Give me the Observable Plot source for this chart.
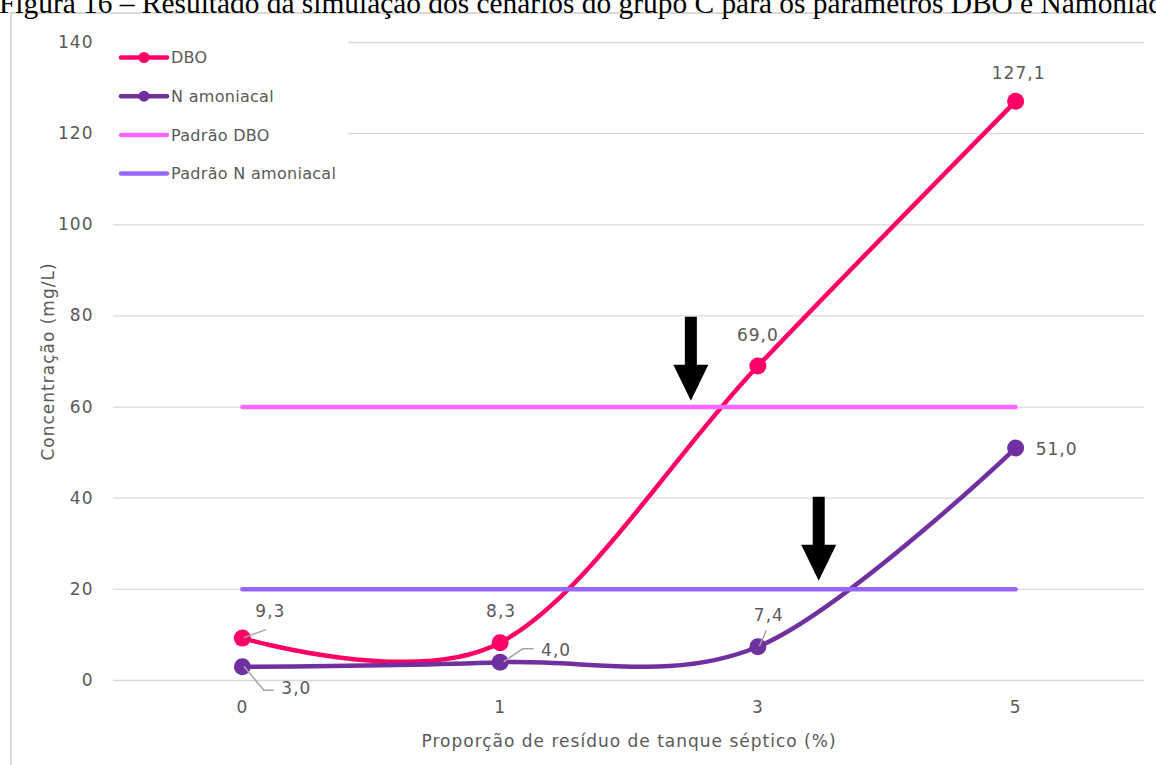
<!DOCTYPE html>
<html>
<head>
<meta charset="utf-8">
<script src="https://cdn.jsdelivr.net/npm/d3@7"></script>
<script src="https://cdn.jsdelivr.net/npm/@observablehq/plot@0.6"></script>
<style>
  body { margin: 0; background: #fff; overflow: hidden; }
  #wrap { position: relative; width: 1156px; height: 765px; overflow: hidden; }
  #frame { position: absolute; left: 10px; top: 12px; width: 1170px; height: 780px;
           border-left: 2px solid #d9d9d9; border-top: 2px solid #d9d9d9; }
  #title { position: absolute; left: -1px; top: -13px; white-space: nowrap;
           font: 29.4px "Liberation Serif", "Times New Roman", serif; color: #000; }
  #chart { position: absolute; left: 0; top: 0; }
  #chart svg text { letter-spacing: 1px; }
  #chart svg g.legend text { letter-spacing: 0.3px; }
</style>
</head>
<body>
<div id="wrap">
  <div id="frame"></div>
  <div id="title">Figura 16 – Resultado da simulação dos cenários do grupo C para os parâmetros DBO e Namoniacal</div>
  <div id="chart"></div>
</div>
<script>
// Cenários: proporção de resíduo de tanque séptico (%)
const categories = ["0", "1", "3", "5"];
// Concentrações simuladas (mg/L)
const dbo = [9.3, 8.3, 69.0, 127.1];
const nAmoniacal = [3.0, 4.0, 7.4, 51.0];
// Padrões de lançamento (mg/L)
const padraoDBO = 60;
const padraoN = 20;
// Ticks do eixo de concentração
const yTicks = [0, 20, 40, 60, 80, 100, 120, 140];
// Setas de destaque: ponta (posição entre cenários, concentração)
const arrowTips = [
  { x: 1.74, y: 61.4 },
  { x: 2.236, y: 21.9 }
];

const colors = {
  dbo: "#FF0066",
  n: "#7030A0",
  padraoDBO: "#FF66FF",
  padraoN: "#9966FF"
};
const textColor = "#595959";
const font = "'DejaVu Sans', Verdana, sans-serif";

const rows = categories.map((c, i) => ({
  i, cat: c, dbo: dbo[i], n: nAmoniacal[i], pDBO: padraoDBO, pN: padraoN
}));

const fmt = v => v.toFixed(1).replace(".", ",");

// Rótulos de dados: deslocamento (px) do texto em relação ao ponto
const labelLayout = {
  dbo: [{ dx: 28, dy: -27 }, { dx: 1, dy: -31 }, { dx: 0, dy: -31 }, { dx: 3, dy: -28 }],
  n:   [{ dx: 54, dy: 22 },  { dx: 56, dy: -12 }, { dx: 11, dy: -31 }, { dx: 41, dy: 1 }]
};
// Linhas de chamada (polilinhas em px relativas ao ponto)
const leaders = [
  { series: "dbo", i: 0, path: [[2, 0], [24, -8]] },
  { series: "n", i: 0, path: [[2, 0], [22, 24], [32, 24]] },
  { series: "n", i: 1, path: [[4, 0], [23, -13], [34, -13]] },
  { series: "n", i: 2, path: [[2, 0], [9, -16]] }
];

// Seta preta (haste + cabeça) desenhada a partir da ponta
const arrowSymbol = {
  draw(ctx) {
    ctx.moveTo(-6, -84);
    ctx.lineTo(6, -84);
    ctx.lineTo(6, -36);
    ctx.lineTo(17.5, -36);
    ctx.lineTo(0, 0);
    ctx.lineTo(-17.5, -36);
    ctx.lineTo(-6, -36);
    ctx.closePath();
  }
};

const labelMarks = [];
for (const key of ["dbo", "n"]) {
  rows.forEach((r, k) => {
    const o = labelLayout[key][k];
    labelMarks.push(Plot.text([r], {
      x: "i", y: key, text: d => fmt(d[key]),
      dx: o.dx, dy: o.dy, fill: textColor, fontSize: 17
    }));
  });
}

const chart = Plot.plot({
  width: 1156,
  height: 765,
  marginLeft: 113,
  marginRight: 12,
  marginTop: 42,
  marginBottom: 85,
  style: { fontFamily: font, fontSize: "17px", color: textColor, background: "transparent", overflow: "visible" },
  x: { domain: [-0.5, 3.5] },
  y: { domain: [0, 140] },
  marks: [
    Plot.gridY(yTicks, { stroke: "#d9d9d9", strokeOpacity: 1, strokeWidth: 1.3 }),
    Plot.axisY(yTicks, {
      tickSize: 0, tickPadding: 20, fontSize: 17,
      label: "Concentração (mg/L)", labelAnchor: "center", labelArrow: "none", labelOffset: 72
    }),
    Plot.axisX([0, 1, 2, 3], {
      tickFormat: i => categories[i], tickSize: 0, tickPadding: 20, fontSize: 17,
      label: "Proporção de resíduo de tanque séptico (%)", labelAnchor: "center", labelArrow: "none", labelOffset: 66
    }),
    Plot.line(rows, { x: "i", y: "dbo", stroke: colors.dbo, strokeWidth: 4.5, curve: "cardinal", tension: 0 }),
    Plot.dot(rows, { x: "i", y: "dbo", r: 8.5, fill: colors.dbo }),
    Plot.line(rows, { x: "i", y: "n", stroke: colors.n, strokeWidth: 4.5, curve: "cardinal", tension: 0 }),
    Plot.dot(rows, { x: "i", y: "n", r: 8.5, fill: colors.n }),
    Plot.line(rows, { x: "i", y: "pDBO", stroke: colors.padraoDBO, strokeWidth: 4.5, strokeLinecap: "round" }),
    Plot.line(rows, { x: "i", y: "pN", stroke: colors.padraoN, strokeWidth: 4.5, strokeLinecap: "round" }),
    Plot.dot(arrowTips, { x: "x", y: "y", symbol: arrowSymbol, r: 10, fill: "#000" }),
    ...labelMarks
  ]
});

document.getElementById("chart").appendChild(chart);

// Linhas de chamada dos rótulos
const sx = chart.scale("x"), sy = chart.scale("y");
const svg = d3.select(chart);
const gLeaders = svg.append("g").attr("fill", "none").attr("stroke", "#a6a6a6").attr("stroke-width", 1.5);
for (const l of leaders) {
  const px = sx.apply(l.i), py = sy.apply(rows[l.i][l.series]);
  gLeaders.append("path").attr("d", d3.line()(l.path.map(([dx, dy]) => [px + dx, py + dy])));
}

// Legenda no canto superior esquerdo da área do gráfico
const legendItems = [
  { label: "DBO", color: colors.dbo, marker: true },
  { label: "N amoniacal", color: colors.n, marker: true },
  { label: "Padrão DBO", color: colors.padraoDBO, marker: false },
  { label: "Padrão N amoniacal", color: colors.padraoN, marker: false }
];
const gLeg = svg.append("g").attr("class", "legend").attr("text-anchor", "start");
gLeg.append("rect").attr("x", 108).attr("y", 36).attr("width", 240).attr("height", 156).attr("fill", "#fff");
legendItems.forEach((it, k) => {
  const yc = 57.5 + k * 38.7;
  gLeg.append("line").attr("x1", 121).attr("x2", 167).attr("y1", yc).attr("y2", yc)
    .attr("stroke", it.color).attr("stroke-width", 4.5).attr("stroke-linecap", "round");
  if (it.marker) gLeg.append("circle").attr("cx", 144).attr("cy", yc).attr("r", 5.5).attr("fill", it.color);
  gLeg.append("text").attr("x", 171).attr("y", yc).attr("dy", "0.35em")
    .attr("fill", textColor).attr("font-size", 16).text(it.label);
});
</script>
</body>
</html>
